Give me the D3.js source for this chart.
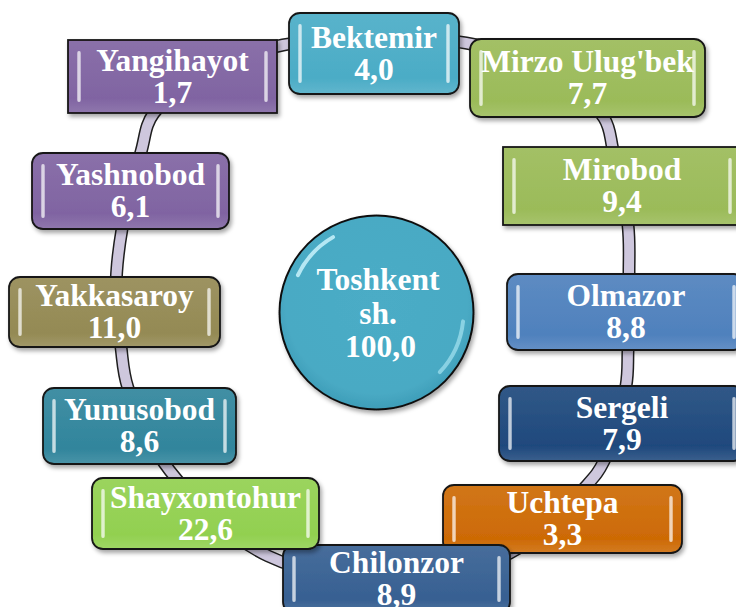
<!DOCTYPE html>
<html>
<head>
<meta charset="utf-8">
<script src="https://cdn.jsdelivr.net/npm/d3@7"></script>
<style>
  html, body { margin: 0; padding: 0; background: #fff; }
  svg { display: block; }
  text { font-family: "Liberation Serif", "Times New Roman", serif; font-weight: bold; }
</style>
</head>
<body>
<svg id="chart" width="736" height="607"></svg>
<script>
// ---------- data ----------
const districts = ["Bektemir", "Mirzo Ulug'bek", "Mirobod", "Olmazor", "Sergeli", "Uchtepa",
                   "Chilonzor", "Shayxontohur", "Yunusobod", "Yakkasaroy", "Yashnobod", "Yangihayot"];
const shares = [4.0, 7.7, 9.4, 8.8, 7.9, 3.3, 8.9, 22.6, 8.6, 11.0, 6.1, 1.7];
const centerLines = ["Toshkent", "sh."];
const centerValue = 100.0;

// ---------- styling / layout (not data) ----------
const boxColors = ["#4BACC6", "#9BBB59", "#9BBB59", "#4F81BD", "#1F497D", "#CD6A05",
                   "#376092", "#92D050", "#31859C", "#948A54", "#8064A2", "#8064A2"];
// [x0, y0, x1, y1, cornerRadius]
const boxLayout = [
  [289, 13, 459, 94, 11],
  [470, 39, 705, 117, 11],
  [503, 147, 741, 225, 0],
  [507, 274, 745, 350, 11],
  [499, 386, 745, 461, 11],
  [443, 485, 682, 553, 11],
  [283, 545, 510, 613, 11],
  [92, 478, 319, 549, 11],
  [43, 388, 236, 464, 11],
  [9, 277, 220, 347, 11],
  [32, 153, 229, 229, 11],
  [68, 40, 277, 113, 0]
];
const ringPath = [
  [372, 40], [466, 43], [548, 70], [604, 118], [613, 150], [628, 225], [629, 275],
  [628, 350], [626, 386], [604, 461], [587, 485], [510, 553], [395, 579], [268, 556],
  [170, 471], [128, 388], [121, 347], [116, 290], [122, 229], [141, 152], [154, 113],
  [225, 64], [283, 45]
];
const circleCenter = [376.5, 312.5], circleR = 97;
const FS = 31.5;

const fmt = v => d3.format(".1f")(v).replace(".", ",");
const color = d3.scaleOrdinal().domain(districts).range(boxColors);

const svg = d3.select("#chart");
const defs = svg.append("defs");

const shadow = defs.append("filter").attr("id", "shadow")
  .attr("x", "-10%").attr("y", "-10%").attr("width", "130%").attr("height", "140%");
shadow.append("feDropShadow").attr("dx", 2).attr("dy", 3).attr("stdDeviation", 2.2)
  .attr("flood-color", "#000").attr("flood-opacity", 0.35);

// ---------- ring ----------
const ringLine = d3.line().curve(d3.curveCatmullRomClosed.alpha(0.5));
svg.append("path").attr("d", ringLine(ringPath))
  .attr("fill", "none").attr("stroke", "#1e1e1e").attr("stroke-width", 13);
svg.append("path").attr("d", ringLine(ringPath))
  .attr("fill", "none").attr("stroke", "#CEC7DD").attr("stroke-width", 10);

// ---------- center circle ----------
const cg = svg.append("g").attr("transform", `translate(${circleCenter[0]},${circleCenter[1]})`);
const cgrad = defs.append("radialGradient").attr("id", "cgrad")
  .attr("cx", "50%").attr("cy", "45%").attr("r", "55%");
cgrad.append("stop").attr("offset", "0%").attr("stop-color", "#4BACC6");
cgrad.append("stop").attr("offset", "85%").attr("stop-color", "#49AAC4");
cgrad.append("stop").attr("offset", "100%").attr("stop-color", "#3E9DB8");
cg.append("circle").attr("r", circleR).attr("fill", "url(#cgrad)")
  .attr("stroke", "#111").attr("stroke-width", 2).attr("filter", "url(#shadow)");
const hiArc = d3.arc().innerRadius(circleR - 12).outerRadius(circleR - 8).cornerRadius(2);
cg.append("path").attr("d", hiArc({startAngle: -1.15, endAngle: -0.5}))
  .attr("fill", "#C8F2FC").attr("opacity", 0.85);
cg.append("path").attr("d", hiArc({startAngle: 1.65, endAngle: 2.35}))
  .attr("fill", "#B4ECF8").attr("opacity", 0.6);

const centerText = [...centerLines, fmt(centerValue)];
cg.selectAll("text.ct").data(centerText).join("text").attr("class", "ct")
  .attr("x", (d, i) => i === 2 ? 4 : 1.5)
  .attr("y", (d, i) => -22.5 + i * 33.5)
  .attr("text-anchor", "middle").attr("font-size", FS).attr("fill", "#fff")
  .text(d => d);

// ---------- boxes ----------
const nodes = districts.map((name, i) => {
  const [x0, y0, x1, y1, r] = boxLayout[i];
  return {name, value: shares[i], x0, y0, x1, y1, r, c: color(name)};
});

nodes.forEach((d, i) => {
  const g = defs.append("linearGradient").attr("id", "bg" + i)
    .attr("x1", 0).attr("y1", 0).attr("x2", 0).attr("y2", 1);
  g.append("stop").attr("offset", "0%").attr("stop-color", d3.interpolateRgb(d.c, "#fff")(0.08));
  g.append("stop").attr("offset", "80%").attr("stop-color", d.c);
  g.append("stop").attr("offset", "100%").attr("stop-color", d3.interpolateRgb(d.c, "#fff")(0.12));
  const h = defs.append("linearGradient").attr("id", "hg" + i)
    .attr("x1", 0).attr("y1", 0).attr("x2", 1).attr("y2", 0);
  h.append("stop").attr("offset", "0%").attr("stop-color", d3.interpolateRgb(d.c, "#fff")(0.45));
  h.append("stop").attr("offset", "50%").attr("stop-color", d3.interpolateRgb(d.c, "#fff")(0.85));
  h.append("stop").attr("offset", "100%").attr("stop-color", d3.interpolateRgb(d.c, "#fff")(0.45));
});

const bg = svg.selectAll("g.box").data(nodes).join("g").attr("class", "box");
bg.append("rect")
  .attr("x", d => d.x0).attr("y", d => d.y0)
  .attr("width", d => d.x1 - d.x0).attr("height", d => d.y1 - d.y0)
  .attr("rx", d => d.r).attr("ry", d => d.r)
  .attr("fill", (d, i) => `url(#bg${i})`)
  .attr("stroke", "#161616").attr("stroke-width", 1.8)
  .attr("filter", "url(#shadow)");
// bevel highlight bars
bg.each(function(d, i) {
  const g = d3.select(this);
  const hgt = d.y1 - d.y0 - 22;
  [d.x0 + 9, d.x1 - 13].forEach(x => {
    g.append("rect").attr("x", x).attr("y", d.y0 + 11)
      .attr("width", 4).attr("height", hgt).attr("rx", 2)
      .attr("fill", `url(#hg${i})`).attr("opacity", 0.95);
  });
});
bg.append("text")
  .attr("x", d => (d.x0 + d.x1) / 2).attr("y", d => (d.y0 + d.y1) / 2 - 6)
  .attr("text-anchor", "middle").attr("font-size", FS).attr("fill", "#fff")
  .text(d => d.name);
bg.append("text")
  .attr("x", d => (d.x0 + d.x1) / 2).attr("y", d => (d.y0 + d.y1) / 2 + 26)
  .attr("text-anchor", "middle").attr("font-size", FS).attr("fill", "#fff")
  .text(d => fmt(d.value));
</script>
</body>
</html>
